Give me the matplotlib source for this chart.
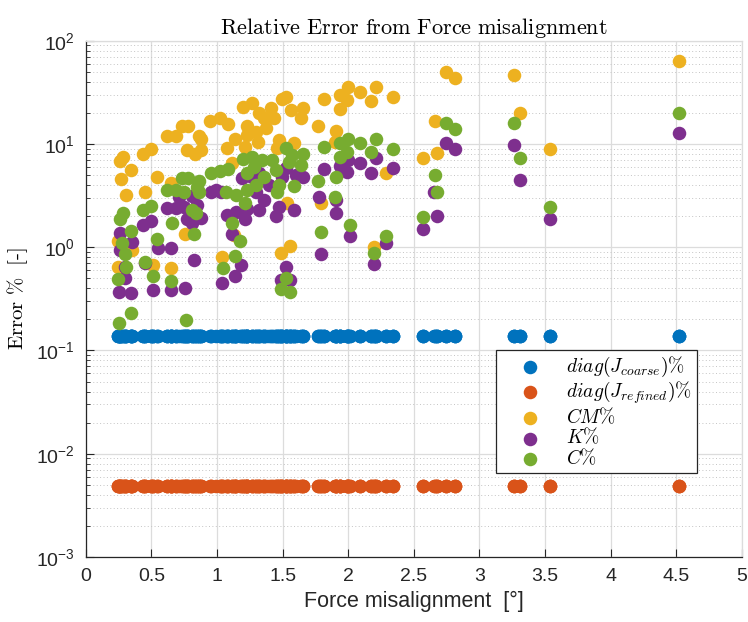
import matplotlib
matplotlib.use("Agg")
import matplotlib.pyplot as plt
from matplotlib.font_manager import FontProperties
from matplotlib.ticker import LogLocator, FixedLocator
import numpy as np

# CM% error vs force misalignment
x_cm = [1.268, 1.2, 0.73, 0.783, 0.95, 1.025, 1.086, 0.62, 0.69, 0.866, 0.88, 0.50, 0.44, 0.775,
        0.836, 0.88, 1.14, 1.23, 1.23, 1.078, 1.214, 0.283, 0.26, 0.343, 0.267, 0.54, 1.116, 0.305,
        0.45, 0.646, 0.76, 0.245, 0.351, 0.245, 0.51, 0.646, 1.04, 1.13, 1.41, 1.32, 1.358, 1.434,
        1.298, 1.373, 1.313, 1.525, 1.495, 1.563, 1.654, 1.64, 1.472, 1.586, 1.457, 1.813, 1.934,
        2.0, 1.987, 2.086, 2.214, 2.176, 2.343, 1.934, 1.768, 1.91, 1.896, 2.29, 1.533, 1.79, 1.487,
        1.555, 2.2, 2.745, 2.813, 3.26, 4.52, 2.66, 3.306, 2.68, 2.57, 3.54]
y_cm = [24.9, 22.8, 14.9, 14.9, 16.7, 17.9, 15.6, 11.9, 11.9, 11.9, 11.2, 9.0, 8.0, 8.7,
        8.0, 8.7, 11.2, 14.9, 12.2, 9.1, 9.4, 7.5, 6.9, 5.6, 4.6, 4.8, 6.6, 3.2,
        3.4, 4.2, 1.35, 1.15, 0.94, 0.64, 0.67, 0.63, 0.81, 1.32, 22.3, 19.9, 17.9, 17.9,
        13.1, 14.3, 10.4, 28.5, 27.3, 21.3, 22.3, 17.9, 10.9, 10.2, 9.1, 27.3, 29.8,
        35.6, 26.7, 31.8, 35.6, 26.1, 28.5, 21.8, 14.9, 13.4, 10.4, 5.2, 2.68, 2.68, 0.88,
        1.03, 1.01, 49.8, 43.6, 46.6, 63.6, 16.7, 19.9, 8.2, 7.3, 9.0]

# K% error
x_k = [1.19, 1.268, 0.995, 0.957, 1.033, 0.714, 0.81, 0.62, 0.69, 0.752, 0.85, 0.775, 0.81, 0.88,
       1.146, 1.23, 1.214, 1.078, 0.44, 0.50, 0.26, 0.351, 0.26, 0.548, 0.646, 0.828, 1.116, 1.184,
       1.14, 1.04, 0.298, 0.298, 0.45, 0.252, 0.343, 0.51, 0.646, 0.76, 1.813, 1.934, 1.995, 1.987,
       2.086, 2.214, 2.176, 2.343, 1.525, 1.654, 1.6, 1.495, 1.396, 1.32, 1.298, 1.775, 1.32, 1.45,
       1.472, 1.586, 1.358, 1.904, 1.904, 2.017, 1.79, 2.29, 2.2, 1.525, 1.487, 1.555, 2.745, 2.813,
       3.26, 4.52, 2.654, 2.68, 2.57, 3.306, 3.54]
y_k = [4.7, 4.8, 3.6, 3.4, 3.4, 3.07, 3.1, 2.40, 2.40, 2.46, 2.57, 1.88, 1.72, 1.92,
       2.20, 2.35, 1.88, 2.05, 1.64, 1.80, 1.38, 1.13, 0.94, 0.98, 0.98, 0.75, 1.35, 0.67,
       0.53, 0.45, 0.64, 0.50, 0.70, 0.37, 0.36, 0.385, 0.385, 0.40, 5.7, 6.1, 7.0, 5.4,
       6.6, 7.3, 5.2, 5.9, 5.9, 4.8, 5.0, 4.8, 4.0, 5.2, 3.4, 3.07, 2.30, 2.01,
       2.46, 2.30, 2.87, 2.87, 2.15, 1.29, 0.86, 1.10, 0.69, 0.64, 0.48, 0.48, 10.2, 9.0,
       9.8, 12.8, 3.4, 2.01, 1.50, 4.5, 1.88]

# C% error
x_c = [1.2, 1.268, 0.73, 0.783, 0.866, 0.957, 1.025, 1.086, 0.62, 0.69, 0.85, 0.752, 1.07, 1.146,
       1.23, 1.23, 0.866, 1.214, 0.283, 0.26, 0.44, 0.50, 0.81, 0.843, 0.654, 0.343, 1.116, 0.828,
       1.177, 0.275, 0.54, 0.298, 0.45, 0.305, 1.14, 1.048, 0.51, 0.245, 0.646, 0.343, 0.252, 0.767,
       1.525, 1.57, 1.654, 1.64, 1.548, 1.419, 1.45, 1.343, 1.283, 1.358, 1.298, 1.472, 1.586, 1.457,
       1.813, 1.934, 1.995, 2.086, 2.214, 2.343, 1.987, 1.934, 2.17, 1.768, 1.91, 1.896, 1.79, 2.017,
       2.29, 2.2, 1.525, 1.487, 1.555, 2.745, 2.813, 3.26, 4.52, 2.66, 2.68, 2.57, 3.306, 3.54]
y_c = [7.2, 7.5, 4.7, 4.7, 4.4, 5.2, 5.5, 5.7, 3.6, 3.6, 3.8, 3.4, 3.4, 3.2,
       5.2, 3.6, 3.4, 2.68, 2.15, 1.88, 2.30, 2.51, 2.30, 2.15, 1.72, 1.44, 1.72, 1.35,
       1.15, 1.10, 1.20, 0.86, 0.72, 0.64, 0.82, 0.63, 0.53, 0.49, 0.47, 0.23, 0.185, 0.197,
       9.1, 7.8, 8.0, 6.3, 6.7, 7.0, 5.6, 7.0, 6.0, 4.8, 4.0, 4.0, 3.9, 3.4,
       9.4, 10.2, 11.2, 10.2, 11.2, 9.0, 8.4, 7.5, 8.4, 4.4, 4.8, 3.07, 1.41, 1.64,
       1.29, 0.88, 0.50, 0.39, 0.37, 16.0, 14.0, 16.0, 19.9, 5.0, 3.4, 1.96, 7.3, 2.46]

# jacobian diagonal errors are flat over all samples
coarse_err = 0.137
refined_err = 0.0049

labels = [r"$diag(J_{coarse})\%$", r"$diag(J_{refined})\%$", r"$CM\%$", r"$K\%$", r"$C\%$"]
colors = ["#0072BD", "#D95319", "#EDB120", "#7E2F8E", "#77AC30"]

plt.rcParams["font.family"] = ["Liberation Sans", "DejaVu Sans"]
plt.rcParams["mathtext.fontset"] = "custom"
plt.rcParams["mathtext.rm"] = "Liberation Sans"
plt.rcParams["mathtext.it"] = "Liberation Sans:italic"

x_all = np.concatenate([x_cm, x_k, x_c])

fig = plt.figure(figsize=(7.48, 6.22), dpi=100)
ax = fig.add_axes([0.1146, 0.1045, 0.8774, 0.8301])

ms = 95
ax.scatter(x_all, np.full(len(x_all), coarse_err), s=ms, c=colors[0], label=labels[0], linewidths=0, zorder=3)
ax.scatter(x_all, np.full(len(x_all), refined_err), s=ms, c=colors[1], label=labels[1], linewidths=0, zorder=3)
ax.scatter(x_cm, y_cm, s=ms, c=colors[2], label=labels[2], linewidths=0, zorder=3)
ax.scatter(x_k, y_k, s=ms, c=colors[3], label=labels[3], linewidths=0, zorder=3)
ax.scatter(x_c, y_c, s=ms, c=colors[4], label=labels[4], linewidths=0, zorder=3)

ax.set_yscale("log")
ax.set_xlim(0, 5)
ax.set_ylim(1e-3, 1e2)
ax.set_xticks(np.arange(0, 5.01, 0.5))
ax.set_xticklabels(["0", "0.5", "1", "1.5", "2", "2.5", "3", "3.5", "4", "4.5", "5"])
ax.yaxis.set_major_locator(FixedLocator([1e-3, 1e-2, 1e-1, 1e0, 1e1, 1e2]))
ax.set_yticklabels([r"$\mathregular{10^{-3}}$", r"$\mathregular{10^{-2}}$", r"$\mathregular{10^{-1}}$",
                    r"$\mathregular{10^{0}}$", r"$\mathregular{10^{1}}$", r"$\mathregular{10^{2}}$"])
ax.yaxis.set_minor_locator(LogLocator(base=10, subs=np.arange(2, 10), numticks=20))

ax.grid(True, which="major", color="#dcdcdc", linewidth=0.9, zorder=0)
ax.grid(True, which="minor", axis="y", color="#c4c4c4", linestyle=(0, (1, 2.5)), linewidth=0.7, zorder=0)
ax.set_axisbelow(True)

ax.tick_params(axis="both", which="both", direction="in", top=False, right=False,
               labelsize=14, colors="#262626", pad=8)
ax.tick_params(axis="y", which="major", length=6)
ax.tick_params(axis="y", which="minor", length=3)
ax.tick_params(axis="x", which="major", length=6)
for side in ["left", "bottom"]:
    ax.spines[side].set_color("#262626")
    ax.spines[side].set_linewidth(0.9)
for side in ["top", "right"]:
    ax.spines[side].set_color("#dcdcdc")
    ax.spines[side].set_linewidth(0.9)

ax.set_title(r"$\mathrm{Relative\ Error\ from\ Force\ misalignment}$", fontsize=16,
             math_fontfamily="cm", pad=5)
ax.set_ylabel(r"$\mathrm{Error\ \%\ \ [\text{-}]}$", fontsize=15, math_fontfamily="cm", labelpad=4)
ax.set_xlabel("Force misalignment  [°]", fontsize=15.5, color="#262626")

leg_font = FontProperties(size=14, math_fontfamily="cm")
leg = ax.legend(loc="upper left", bbox_to_anchor=(0.625, 0.401), prop=leg_font, fancybox=False,
                framealpha=1, edgecolor="#262626", borderpad=0.25, handletextpad=0.35,
                labelspacing=0.02, borderaxespad=0, handlelength=3.0)
leg.get_frame().set_linewidth(0.9)

fig.savefig("out.png", dpi=100)
